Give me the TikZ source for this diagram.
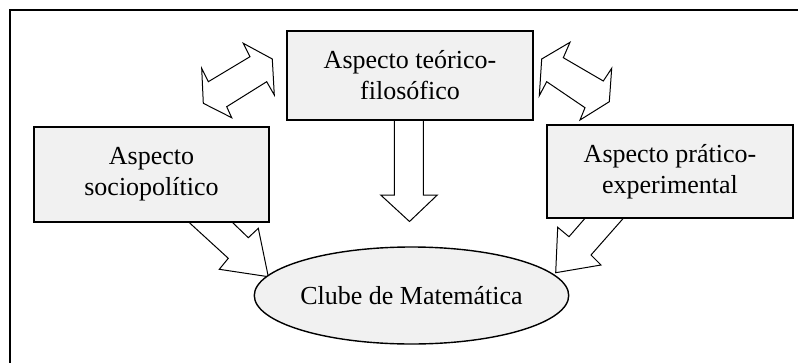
\documentclass[tikz,border=0pt]{standalone}
\usepackage{fontspec}
\setmainfont{Liberation Serif}
\usetikzlibrary{shapes.geometric}
\definecolor{boxfill}{HTML}{F1F1F1}
\tikzset{
  aspectbox/.style={draw=black, line width=1.4pt, fill=boxfill, align=center, inner sep=0pt,
    font=\fontsize{26}{31}\selectfont},
  clubnode/.style={ellipse, draw=black, line width=1.4pt, fill=boxfill, inner sep=0pt,
    minimum width=305pt, minimum height=97pt, font=\fontsize{26}{31}\selectfont},
  blockarrow/.style={draw=black, fill=white, line width=1pt, line join=miter},
  frameline/.style={draw=black, line width=2pt}
}
\begin{document}
\begin{tikzpicture}[x=1pt,y=-1pt]
\useasboundingbox (0,0) rectangle (798,362);
% frame (clipped on right and bottom)
\draw[frameline] (10,370) -- (10,10) -- (810,10);

% arrows (drawn first)
% top-left double arrow
\draw[blockarrow] (243.3,43.3) -- (272.3,59) -- (274.3,95) -- (266.7,81.7) -- (226.7,106.7)
  -- (231.7,117.7) -- (203.3,103.3) -- (201.7,68.3) -- (208.3,81.7) -- (250,56.7) -- cycle;
% top-right double arrow
\draw[blockarrow] (570,42.3) -- (563.3,57.7) -- (603.3,81) -- (611.7,68.3) -- (609.3,101.7)
  -- (580,120) -- (585,107.7) -- (546.7,81.7) -- (539.3,95.7) -- (541.7,59) -- cycle;
% down arrow
\draw[blockarrow] (394.3,120) -- (394.3,195) -- (380.7,195) -- (409.5,221.5) -- (437.3,195)
  -- (423.3,195) -- (423.3,120);
% left arrow to club
\draw[blockarrow] (188.3,221.7) -- (228.3,258.3) -- (219.3,269.3) -- (268.3,276.7)
  -- (258.3,228.3) -- (248.3,237.7) -- (231.7,221.7);
% right arrow to club
\draw[blockarrow] (585,218.3) -- (569,236.7) -- (557.7,227.3) -- (555.7,272.7)
  -- (601,265) -- (591,255) -- (623.3,218.3);

% boxes
\node[aspectbox, minimum width=246pt, minimum height=89pt] (teor) at (410,75.5)
  {Aspecto teórico-\\filosófico};
\node[aspectbox, minimum width=235pt, minimum height=95pt] (socio) at (151.5,174.5)
  {Aspecto\\sociopolítico};
\node[aspectbox, minimum width=246pt, minimum height=93pt] (prat) at (670,171.5)
  {Aspecto prático-\\experimental};
\node[clubnode] (clube) at (411.5,295.5) {Clube de Matemática};
\end{tikzpicture}
\end{document}
